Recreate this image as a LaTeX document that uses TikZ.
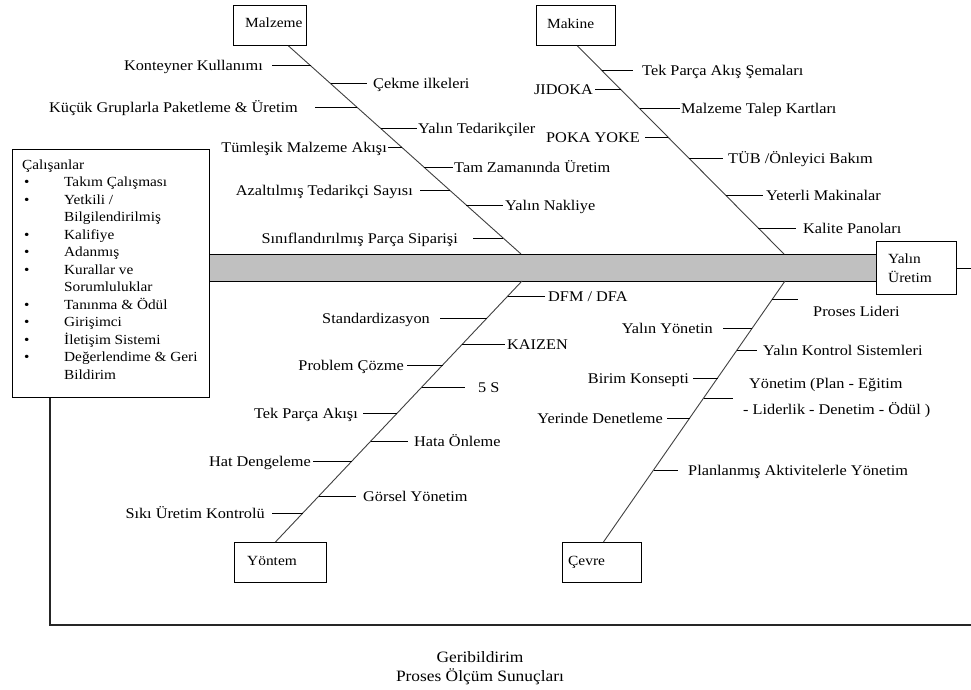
\documentclass[tikz,border=0pt]{standalone}
\usepackage{fontspec}
\setmainfont{Liberation Serif}[FakeStretch=1.1]
\usetikzlibrary{calc}
\definecolor{bargray}{RGB}{192,192,192}
\newcommand\lblfont{\fontsize{14.8}{17}\selectfont}
\newcommand\listfont{\fontsize{13.9}{17.5}\selectfont}
\newcommand\catfont{\fontsize{14}{19}\selectfont}
\newcommand\footfont{\fontsize{15.8}{18.5}\selectfont}
\newcommand\bul{\makebox[42pt][l]{\hspace{2pt}\textbullet}}
\newcommand\nobul{\hspace*{42pt}}
\begin{document}
\begin{tikzpicture}[x=1pt,y=-1pt,
  lbl/.style={inner sep=0, font=\lblfont, text height=11.8pt, text depth=1.5pt},
  lblL/.style={lbl, anchor=east},
  lblR/.style={lbl, anchor=west},
  catlbl/.style={lbl, anchor=west, font=\catfont},
  rib/.style={line width=0.9pt, draw=black},
  spine/.style={line width=0.9pt, draw=black!75},
  catbox/.style={draw, line width=0.9pt, inner sep=0, anchor=north west, fill=white},
  barbox/.style={draw, line width=1.2pt, fill=bargray, inner sep=0, anchor=north west},
  loop/.style={line width=1.1pt, draw=black!85}
]
\useasboundingbox (0,0) rectangle (971,690);
\fill[white] (0,0) rectangle (971,690);

% main bar and boxes
\node[barbox, minimum width=667pt, minimum height=27pt] (bar) at (209,254) {};
\node[catbox, minimum width=197pt, minimum height=248pt] (cal) at (12,149) {};
\node[catbox, minimum width=80pt, minimum height=53pt] (yal) at (876,241) {};
\node[catbox, minimum width=73pt, minimum height=40pt] (malz) at (233,5) {};
\node[catbox, minimum width=79pt, minimum height=40pt] (mak) at (536,5) {};
\node[catbox, minimum width=92pt, minimum height=40pt] (yon) at (234,542) {};
\node[catbox, minimum width=79pt, minimum height=40pt] (cev) at (562,542) {};

% box texts
\node[catlbl] (malzT) at (245,22) {Malzeme};
\node[catlbl] (makT) at (547,23) {Makine};
\node[catlbl] (yonT) at (247,560) {Yöntem};
\node[catlbl] (cevT) at (568,560) {Çevre};
\node[anchor=north west, inner sep=0, align=left, font=\catfont] (yalT) at (888,253.3) {Yalın\\Üretim};
\node[anchor=north west, inner sep=0, align=left, font=\listfont] (calT) at (22,159.4) {%
Çalışanlar\\
\bul Takım Çalışması\\
\bul Yetkili /\\
\nobul Bilgilendirilmiş\\
\bul Kalifiye\\
\bul Adanmış\\
\bul Kurallar ve\\
\nobul Sorumluluklar\\
\bul Tanınma \& Ödül\\
\bul Girişimci\\
\bul İletişim Sistemi\\
\bul Değerlendime \& Geri\\
\nobul Bildirim};

% spines
\coordinate (mT) at ([xshift=18.5pt]malz.south);
\coordinate (mB) at (521,254);
\coordinate (kT) at ([xshift=1.5pt]mak.south);
\coordinate (kB) at (784,254);
\coordinate (yT) at (522,281);
\coordinate (yB) at ([xshift=-5pt]yon.north);
\coordinate (cT) at (785,281);
\coordinate (cB) at ([xshift=1.5pt]cev.north);
\draw[spine] (mT) -- (mB);
\draw[spine] (kT) -- (kB);
\draw[spine] (yT) -- (yB);
\draw[spine] (cT) -- (cB);

% feedback loop
\coordinate (fbR) at (971,625);
\coordinate (fbL) at (50,625);
\draw[rib] (yal.east) -- (yal.east -| fbR);
\draw[loop] (fbR) -- (fbL) -- (fbL |- cal.south);

% ---- Malzeme
\node[lblL] (m1) at (263,65) {Konteyner Kullanımı};
\node[lblR] (m2) at (373,83) {Çekme ilkeleri};
\node[lblL] (m3) at (298,107) {Küçük Gruplarla Paketleme \& Üretim};
\node[lblR] (m4) at (418,128) {Yalın Tedarikçiler};
\node[lblL] (m5) at (387,147) {Tümleşik Malzeme Akışı};
\node[lblR] (m6) at (454,167) {Tam Zamanında Üretim};
\node[lblL] (m7) at (413,190) {Azaltılmış Tedarikçi Sayısı};
\node[lblR] (m8) at (505,205) {Yalın Nakliye};
\node[lblL] (m9) at (458,238) {Sınıflandırılmış Parça Siparişi};
\coordinate (ms1) at ($(mT)!20/209!(mB)$);
\coordinate (ms2) at ($(mT)!38/209!(mB)$);
\coordinate (ms3) at ($(mT)!62/209!(mB)$);
\coordinate (ms4) at ($(mT)!83/209!(mB)$);
\coordinate (ms5) at ($(mT)!102/209!(mB)$);
\coordinate (ms6) at ($(mT)!122/209!(mB)$);
\coordinate (ms7) at ($(mT)!145/209!(mB)$);
\coordinate (ms8) at ($(mT)!160/209!(mB)$);
\coordinate (ms9) at ($(mT)!193/209!(mB)$);
\draw[rib, shorten >=9pt] (ms1) -- (ms1 -| m1.east);
\draw[rib, shorten >=6pt] (ms2) -- (ms2 -| m2.west);
\draw[rib, shorten >=17pt] (ms3) -- (ms3 -| m3.east);
\draw[rib, shorten >=1pt] (ms4) -- (ms4 -| m4.west);
\draw[rib, shorten >=1pt] (ms5) -- (ms5 -| m5.east);
\draw[rib, shorten >=1pt] (ms6) -- (ms6 -| m6.west);
\draw[rib, shorten >=7pt] (ms7) -- (ms7 -| m7.east);
\draw[rib, shorten >=2pt] (ms8) -- (ms8 -| m8.west);
\draw[rib, shorten >=15pt] (ms9) -- (ms9 -| m9.east);

% ---- Makine
\node[lblR] (k1) at (642,70) {Tek Parça Akış Şemaları};
\node[lblL] (k2) at (593,89) {JIDOKA};
\node[lblR] (k3) at (681,108) {Malzeme Talep Kartları};
\node[lblL] (k4) at (640,137) {POKA YOKE};
\node[lblR] (k5) at (728,158) {TÜB /Önleyici Bakım};
\node[lblR] (k6) at (766,195) {Yeterli Makinalar};
\node[lblR] (k7) at (803,228) {Kalite Panoları};
\coordinate (ks1) at ($(kT)!25/209!(kB)$);
\coordinate (ks2) at ($(kT)!44/209!(kB)$);
\coordinate (ks3) at ($(kT)!63/209!(kB)$);
\coordinate (ks4) at ($(kT)!92/209!(kB)$);
\coordinate (ks5) at ($(kT)!113/209!(kB)$);
\coordinate (ks6) at ($(kT)!150/209!(kB)$);
\coordinate (ks7) at ($(kT)!183/209!(kB)$);
\draw[rib, shorten >=9pt] (ks1) -- (ks1 -| k1.west);
\draw[rib, shorten >=2pt] (ks2) -- (ks2 -| k2.east);
\draw[rib, shorten >=1pt] (ks3) -- (ks3 -| k3.west);
\draw[rib, shorten >=5pt] (ks4) -- (ks4 -| k4.east);
\draw[rib, shorten >=5pt] (ks5) -- (ks5 -| k5.west);
\draw[rib, shorten >=3pt] (ks6) -- (ks6 -| k6.west);
\draw[rib, shorten >=7pt] (ks7) -- (ks7 -| k7.west);

% ---- Yöntem
\node[lblR] (y1) at (548,296) {DFM / DFA};
\node[lblL] (y2) at (430,318) {Standardizasyon};
\node[lblR] (y3) at (507,344) {KAIZEN};
\node[lblL] (y4) at (404,365) {Problem Çözme};
\node[lblR] (y5) at (478,387) {5 S};
\node[lblL] (y6) at (358,413) {Tek Parça Akışı};
\node[lblR] (y7) at (414,441) {Hata Önleme};
\node[lblL] (y8) at (311,461) {Hat Dengeleme};
\node[lblR] (y9) at (363,496) {Görsel Yönetim};
\node[lblL] (y10) at (265,513) {Sıkı Üretim Kontrolü};
\coordinate (ys1) at ($(yT)!15/261!(yB)$);
\coordinate (ys2) at ($(yT)!37/261!(yB)$);
\coordinate (ys3) at ($(yT)!63/261!(yB)$);
\coordinate (ys4) at ($(yT)!84/261!(yB)$);
\coordinate (ys5) at ($(yT)!106/261!(yB)$);
\coordinate (ys6) at ($(yT)!132/261!(yB)$);
\coordinate (ys7) at ($(yT)!160/261!(yB)$);
\coordinate (ys8) at ($(yT)!180/261!(yB)$);
\coordinate (ys9) at ($(yT)!215/261!(yB)$);
\coordinate (ys10) at ($(yT)!232/261!(yB)$);
\draw[rib, shorten >=3pt] (ys1) -- (ys1 -| y1.west);
\draw[rib, shorten >=10pt] (ys2) -- (ys2 -| y2.east);
\draw[rib, shorten >=2pt] (ys3) -- (ys3 -| y3.west);
\draw[rib, shorten >=3pt] (ys4) -- (ys4 -| y4.east);
\draw[rib, shorten >=13pt] (ys5) -- (ys5 -| y5.west);
\draw[rib, shorten >=5pt] (ys6) -- (ys6 -| y6.east);
\draw[rib, shorten >=6pt] (ys7) -- (ys7 -| y7.west);
\draw[rib, shorten >=2pt] (ys8) -- (ys8 -| y8.east);
\draw[rib, shorten >=7pt] (ys9) -- (ys9 -| y9.west);
\draw[rib, shorten >=7pt] (ys10) -- (ys10 -| y10.east);

% ---- Çevre
\node[lblR] (c1) at (813,311) {Proses Lideri};
\node[lblL] (c2) at (713,328) {Yalın Yönetin};
\node[lblR] (c3) at (763,350) {Yalın Kontrol Sistemleri};
\node[lblL] (c4) at (689,378) {Birim Konsepti};
\node[anchor=west, inner sep=0, align=left, font=\fontsize{14.8}{26}\selectfont] (c5) at (743,398) {\hspace*{6pt}Yönetim (Plan - Eğitim\\- Liderlik - Denetim - Ödül )};
\node[lblL] (c6) at (663,418) {Yerinde Denetleme};
\node[lblR] (c7) at (688,470) {Planlanmış Aktivitelerle Yönetim};
\coordinate (cs1) at ($(cT)!18/261!(cB)$);
\coordinate (cs2) at ($(cT)!47/261!(cB)$);
\coordinate (cs3) at ($(cT)!69/261!(cB)$);
\coordinate (cs4) at ($(cT)!97/261!(cB)$);
\coordinate (cs5) at ($(cT)!117/261!(cB)$);
\coordinate (cs6) at ($(cT)!137/261!(cB)$);
\coordinate (cs7) at ($(cT)!189/261!(cB)$);
\draw[rib, shorten >=15pt] (cs1) -- (cs1 -| c1.west);
\draw[rib, shorten >=10pt] (cs2) -- (cs2 -| c2.east);
\draw[rib, shorten >=6pt] (cs3) -- (cs3 -| c3.west);
\draw[rib, shorten >=4pt] (cs4) -- (cs4 -| c4.east);
\draw[rib, shorten >=10pt] (cs5) -- (cs5 -| c5.west);
\draw[rib, shorten >=4pt] (cs6) -- (cs6 -| c6.east);
\draw[rib, shorten >=10pt] (cs7) -- (cs7 -| c7.west);

% footer
\node[anchor=north, inner sep=0, align=center, font=\footfont] (foot) at (480,651.5) {Geribildirim\\Proses Ölçüm Sunuçları};
\end{tikzpicture}
\end{document}
